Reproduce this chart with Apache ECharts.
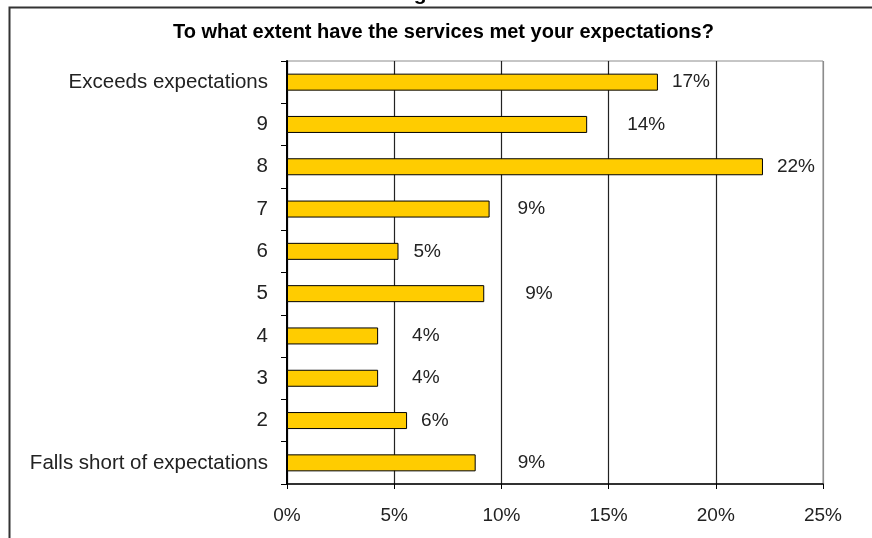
<!DOCTYPE html>
<html>
<head>
<meta charset="utf-8">
<script src="https://cdn.jsdelivr.net/npm/echarts@6/dist/echarts.min.js"></script>
<style>
  html, body { margin: 0; padding: 0; background: #fff; }
  #chart { width: 872px; height: 538px; }
</style>
</head>
<body>
<div id="chart"></div>
<script>
// Survey answers, top to bottom
const categories = [
  'Exceeds expectations', '9', '8', '7', '6', '5', '4', '3', '2',
  'Falls short of expectations'
];
// Share of respondents (%)
const shares = [17.3, 14.0, 22.2, 9.45, 5.2, 9.2, 4.25, 4.25, 5.6, 8.8];
// Axis ticks (%)
const axisMin = 0;
const axisMax = 25;
const axisStep = 5;

const chartTitle = 'To what extent have the services met your expectations?';
const figureCaption = 'Figure 5';

// gap between each bar end and its percentage label (px)
const labelGap = [14, 40, 14, 28, 15, 41, 34, 34, 14, 42];

const FONT = '"Liberation Sans", Arial, sans-serif';

const chart = echarts.init(document.getElementById('chart'), null, { renderer: 'canvas' });

chart.setOption({
  animation: false,
  backgroundColor: '#fff',
  textStyle: { fontFamily: FONT },
  graphic: [
    // outer frame (left and top edges)
    { type: 'polyline', silent: true,
      shape: { points: [[9.5, 540], [9.5, 7.5], [872, 7.5]] },
      style: { stroke: '#333', lineWidth: 2, fill: null } },
    // caption above the frame, mostly cut off by the page edge
    { type: 'text', silent: true, left: 'center', top: -16,
      style: { text: figureCaption, font: 'bold 21px ' + FONT, fill: '#000' } },
    { type: 'text', silent: true, left: 173, top: 22,
      style: { text: chartTitle, font: 'bold 20px ' + FONT, fill: '#000' } }
  ],
  grid: {
    left: 287, right: 49, top: 61, bottom: 54,
    show: true, borderColor: '#8c8c8c', borderWidth: 1,
    containLabel: false
  },
  xAxis: {
    type: 'value',
    min: axisMin, max: axisMax, interval: axisStep,
    axisLine: { show: true, lineStyle: { color: '#000', width: 1.5 } },
    axisTick: { show: true, length: 5, lineStyle: { color: '#000' } },
    axisLabel: {
      formatter: '{value}%', margin: 22,
      fontSize: 19, color: '#222', fontFamily: FONT
    },
    splitLine: {
      show: true,
      lineStyle: { color: ['#000', '#222', '#222', '#222', '#222', '#8c8c8c'], width: 1.2 }
    }
  },
  yAxis: {
    type: 'category',
    data: categories,
    inverse: true,
    axisLine: { show: true, lineStyle: { color: '#000', width: 2 } },
    axisTick: { show: true, length: 6, inside: false, lineStyle: { color: '#000' } },
    axisLabel: { margin: 19, fontSize: 20.5, color: '#222', fontFamily: FONT },
    splitLine: { show: false }
  },
  series: [{
    type: 'bar',
    barWidth: 17,
    data: shares.map((v, i) => ({
      value: v,
      label: { offset: [labelGap[i], 0] }
    })),
    itemStyle: { color: '#FFCC00', borderColor: '#000', borderWidth: 1 },
    label: {
      show: true,
      position: 'right',
      distance: 0,
      formatter: p => Math.round(p.value) + '%',
      fontSize: 19, color: '#222', fontFamily: FONT
    }
  }]
});
</script>
</body>
</html>
